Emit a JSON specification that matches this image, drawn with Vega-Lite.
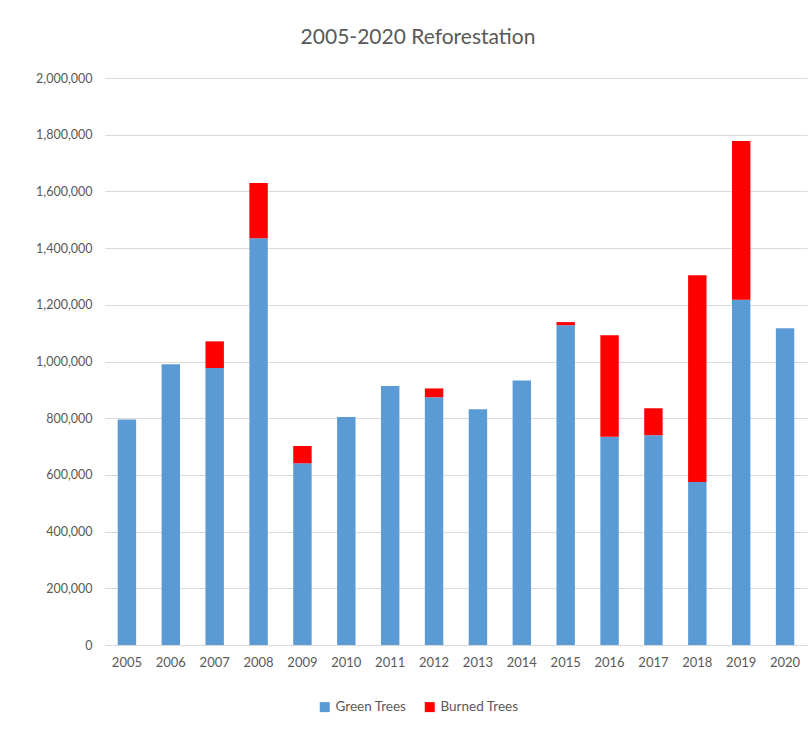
{
  "$schema": "https://vega.github.io/schema/vega-lite/v6.json",
  "autosize": {"type": "none"},
  "width": 702,
  "height": 567,
  "padding": {"left": 105, "top": 78, "right": 2, "bottom": 87},
  "background": "white",
  "title": {
    "text": "2005-2020 Reforestation",
    "fontSize": 21,
    "font": "Lato",
    "fontWeight": "normal",
    "color": "#595959",
    "anchor": "middle",
    "dx": -38,
    "offset": 24
  },
  "data": {
    "values": [
      {"year": "2005", "series": "Green Trees", "trees": 795000},
      {"year": "2006", "series": "Green Trees", "trees": 990000},
      {"year": "2007", "series": "Green Trees", "trees": 977000},
      {"year": "2007", "series": "Burned Trees", "trees": 94000},
      {"year": "2008", "series": "Green Trees", "trees": 1435000},
      {"year": "2008", "series": "Burned Trees", "trees": 195000},
      {"year": "2009", "series": "Green Trees", "trees": 641000},
      {"year": "2009", "series": "Burned Trees", "trees": 61000},
      {"year": "2010", "series": "Green Trees", "trees": 804000},
      {"year": "2011", "series": "Green Trees", "trees": 914000},
      {"year": "2012", "series": "Green Trees", "trees": 874000},
      {"year": "2012", "series": "Burned Trees", "trees": 31000},
      {"year": "2013", "series": "Green Trees", "trees": 832000},
      {"year": "2014", "series": "Green Trees", "trees": 933000},
      {"year": "2015", "series": "Green Trees", "trees": 1128000},
      {"year": "2015", "series": "Burned Trees", "trees": 11000},
      {"year": "2016", "series": "Green Trees", "trees": 735000},
      {"year": "2016", "series": "Burned Trees", "trees": 358000},
      {"year": "2017", "series": "Green Trees", "trees": 740000},
      {"year": "2017", "series": "Burned Trees", "trees": 95000},
      {"year": "2018", "series": "Green Trees", "trees": 575000},
      {"year": "2018", "series": "Burned Trees", "trees": 729000},
      {"year": "2019", "series": "Green Trees", "trees": 1218000},
      {"year": "2019", "series": "Burned Trees", "trees": 560000},
      {"year": "2020", "series": "Green Trees", "trees": 1117000}
    ]
  },
  "mark": {"type": "bar"},
  "encoding": {
    "x": {
      "field": "year",
      "type": "ordinal",
      "scale": {"paddingInner": 0.58, "paddingOuter": 0.29},
      "axis": {
        "title": null,
        "labelAngle": 0,
        "ticks": false,
        "domainColor": "#d9d9d9",
        "labelPadding": 11,
        "labelFontSize": 13,
        "labelFont": "Lato",
        "labelColor": "#595959"
      }
    },
    "y": {
      "field": "trees",
      "type": "quantitative",
      "aggregate": "sum",
      "stack": "zero",
      "scale": {"domain": [0, 2000000]},
      "axis": {
        "title": null,
        "values": [0, 200000, 400000, 600000, 800000, 1000000, 1200000, 1400000, 1600000, 1800000, 2000000],
        "format": ",.0f",
        "domain": false,
        "ticks": false,
        "gridColor": "#d9d9d9",
        "labelPadding": 13,
        "labelFontSize": 12.5,
        "labelFont": "Lato",
        "labelColor": "#595959"
      }
    },
    "color": {
      "field": "series",
      "type": "nominal",
      "scale": {"domain": ["Green Trees", "Burned Trees"], "range": ["#5b9bd5", "#ff0000"]},
      "legend": {
        "title": null,
        "orient": "none",
        "direction": "horizontal",
        "legendX": 213,
        "legendY": 622,
        "symbolType": "square",
        "symbolSize": 100,
        "symbolStrokeWidth": 0,
        "labelFontSize": 13.5,
        "labelFont": "Lato",
        "labelColor": "#595959",
        "columnPadding": 16
      }
    },
    "order": {"field": "series", "sort": "descending"}
  },
  "config": {"view": {"stroke": null}}
}
